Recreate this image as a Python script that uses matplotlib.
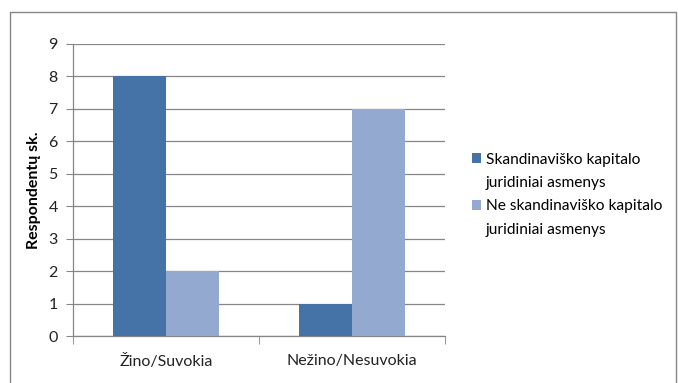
import matplotlib
matplotlib.use("Agg")
import matplotlib.pyplot as plt
from matplotlib.patches import Rectangle, Patch
import numpy as np

plt.rcParams['font.family'] = ['Lato', 'DejaVu Sans']

categories = ["Žino/Suvokia", "Nežino/Nesuvokia"]
series_names = [["Skandinaviško kapitalo", "juridiniai asmenys"],
                ["Ne skandinaviško kapitalo", "juridiniai asmenys"]]
scandinavian = [8, 1]
non_scandinavian = [2, 7]
colors = ["#4572A7", "#94A9CF"]
y_ticks = list(range(0, 10))

W, H = 678, 383
fig = plt.figure(figsize=(W / 100, H / 100), dpi=100)

# outer chart frame
fig.patches.append(Rectangle((10 / W, -0.05), (W - 12) / W, (H - 12) / H + 0.05,
                             transform=fig.transFigure, fill=False,
                             edgecolor="#868686", linewidth=1.0))

ax = fig.add_axes([73 / W, 47 / H, 372 / W, 292 / H])

x = np.arange(len(categories))
bw = 0.285
ax.bar(x - bw / 2, scandinavian, width=bw, color=colors[0], zorder=3)
ax.bar(x + bw / 2, non_scandinavian, width=bw, color=colors[1], zorder=3)

ax.set_xlim(-0.5, len(categories) - 0.5)
ax.set_ylim(0, 9)
ax.set_yticks(y_ticks)
ax.grid(axis="y", color="#868686", linewidth=0.9, zorder=0)
ax.set_axisbelow(True)

ax.set_xticks(x)
ax.set_xticklabels(categories, fontsize=11.5, color="#222222")
ax.set_xticks(np.arange(-0.5, len(categories), 1.0), minor=True)
ax.tick_params(axis="x", which="major", length=0, pad=13)
ax.tick_params(axis="x", which="minor", length=6, color="#868686", direction="out")
ax.tick_params(axis="y", length=5, color="#868686", labelsize=11.5, pad=6,
               labelcolor="#222222")

for s in ["top", "right"]:
    ax.spines[s].set_visible(False)
for s in ["left", "bottom"]:
    ax.spines[s].set_color("#868686")
    ax.spines[s].set_linewidth(0.9)

ax.set_ylabel("Respondentų sk.", fontsize=11.5, fontweight="bold", labelpad=5)

# legend: square marker on the first line of each wrapped label
handles, labels = [], []
for c, lines in zip(colors, series_names):
    handles.append(Patch(facecolor=c, edgecolor="none"))
    labels.append(lines[0])
    for extra in lines[1:]:
        handles.append(Patch(facecolor="none", edgecolor="none"))
        labels.append(extra)
leg = fig.legend(handles, labels, loc="upper left",
                 bbox_to_anchor=(464 / W, 1 - 145 / H), frameon=False,
                 fontsize=11.2, handlelength=0.6, handleheight=0.6, handletextpad=0.3,
                 labelspacing=0.6, borderpad=0)

fig.savefig("out.png", dpi=100)
